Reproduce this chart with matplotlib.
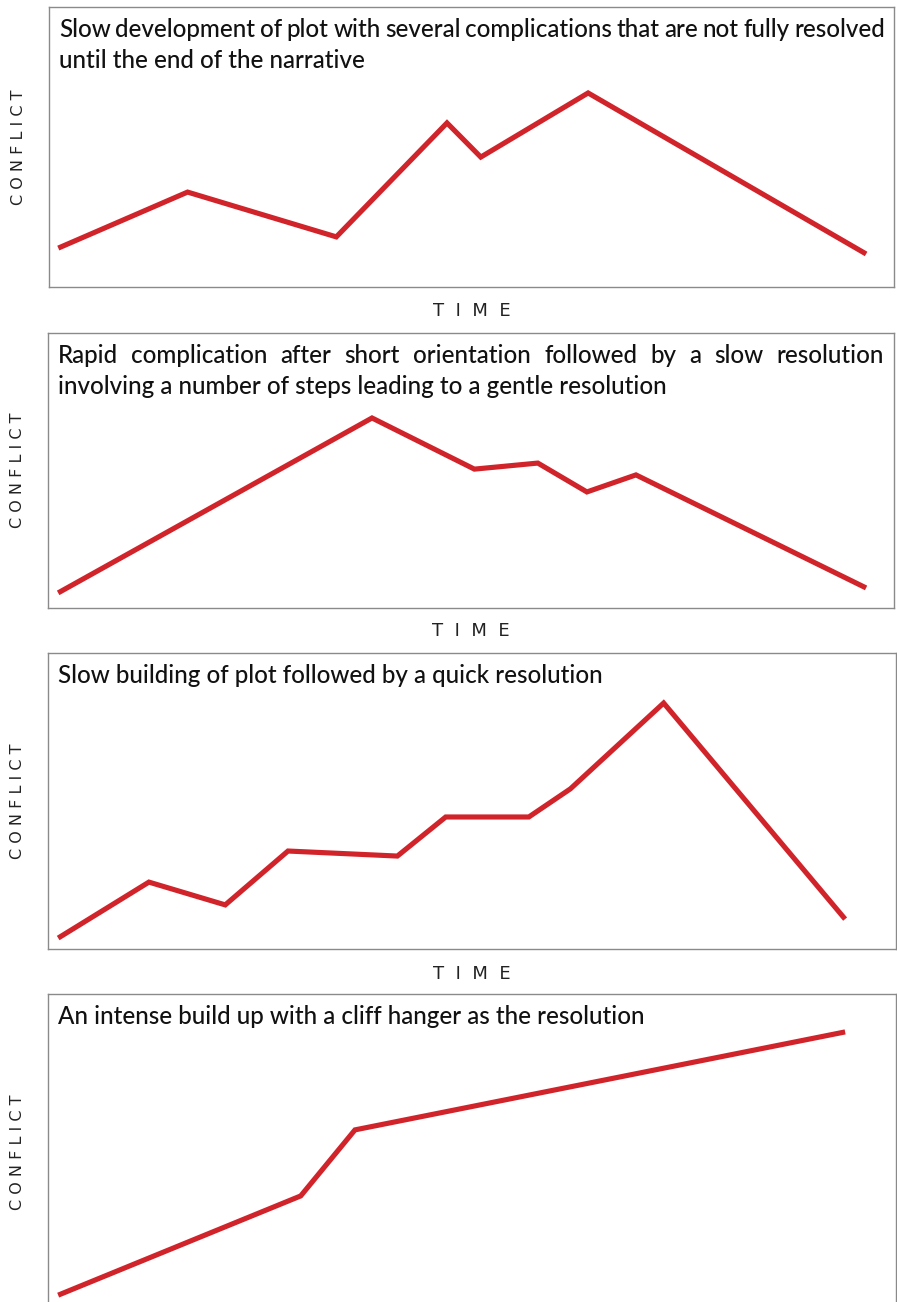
import matplotlib.pyplot as plt

# time / conflict values, both on a 0-100 scale across each panel
titles = [
    ["Slow development of plot with several complications that are not fully resolved",
     "until the end of the narrative"],
    ["Rapid complication after short orientation followed by a slow resolution",
     "involving a number of steps leading to a gentle resolution"],
    ["Slow building of plot followed by a quick resolution"],
    ["An intense build up with a cliff hanger as the resolution"],
]

time_1 = [1.1, 16.4, 34.0, 47.1, 51.1, 63.8, 96.7]
conflict_1 = [13.9, 33.9, 17.9, 58.6, 46.4, 69.3, 11.8]

time_2 = [1.2, 38.3, 50.4, 57.9, 63.7, 69.5, 96.7]
conflict_2 = [5.5, 69.1, 50.5, 52.7, 42.2, 48.4, 7.3]

time_3 = [1.2, 11.9, 20.9, 28.3, 41.2, 46.9, 56.7, 61.6, 72.6, 94.0]
conflict_3 = [3.7, 22.6, 14.9, 33.1, 31.4, 44.6, 44.6, 54.1, 83.1, 10.1]

time_4 = [1.2, 29.8, 36.2, 94.0]
conflict_4 = [4.7, 36.1, 57.0, 88.0]

series = [(time_1, conflict_1), (time_2, conflict_2), (time_3, conflict_3), (time_4, conflict_4)]
show_time_label = [True, True, True, False]

W, H = 897, 1302
# panel boxes in pixels: left, top, right, bottom
boxes = [(49, 7, 894, 287), (48, 333, 894, 608), (48, 653, 896, 949), (48, 994, 896, 1310)]

fig = plt.figure(figsize=(W / 100, H / 100), dpi=100)
fig.patch.set_facecolor("white")
renderer = fig.canvas.get_renderer()
font = dict(fontsize=17.4, family="Lato", fontweight="medium", color="#111111")

for lines, (t, c), box, tl in zip(titles, series, boxes, show_time_label):
    l, tp, r, b = box
    bw, bh = r - l, b - tp
    ax = fig.add_axes([l / W, 1 - b / H, bw / W, bh / H])
    ax.plot(t, c, color="#d1232a", linewidth=3.7, solid_joinstyle="miter", solid_capstyle="butt")
    ax.set_xlim(0, 100)
    ax.set_ylim(0, 100)
    ax.set_xticks([])
    ax.set_yticks([])
    for s in ax.spines.values():
        s.set_color("#8a8a8a")
        s.set_linewidth(1.0)

    x0 = 10 / bw
    for i, line in enumerate(lines):
        y = 1 - (30 + 31 * i) / bh
        if i == 0 and len(lines) > 1:
            # justified first line
            words = line.split()
            texts = [ax.text(0, y, w_, transform=ax.transAxes, ha="left", va="baseline", **font) for w_ in words]
            widths = [tx.get_window_extent(renderer).width for tx in texts]
            target = 826
            gap = (target - sum(widths)) / (len(words) - 1)
            pos = 10
            for tx, wd in zip(texts, widths):
                tx.set_x(pos / bw)
                pos += wd + gap
        else:
            ax.text(x0, y, line, transform=ax.transAxes, ha="left", va="baseline", **font)

    ax.text(-0.036, 0.5, "C O N F L I C T", transform=ax.transAxes, rotation=90,
            ha="center", va="center", fontsize=11.5, family="DejaVu Sans", color="#222222")
    if tl:
        ax.text(0.5, -0.085, "T  I  M  E", transform=ax.transAxes, ha="center", va="center",
                fontsize=13, family="DejaVu Sans", color="#222222")

fig.savefig("out.png", dpi=100, facecolor="white")
